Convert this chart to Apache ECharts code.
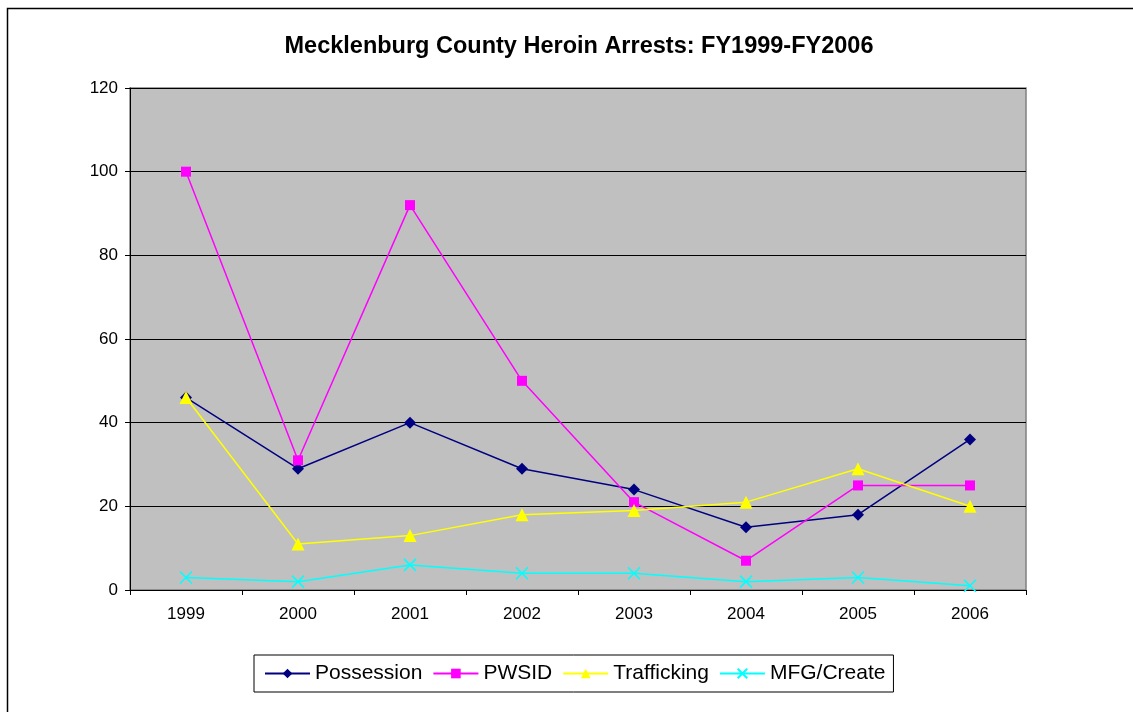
<!DOCTYPE html>
<html>
<head>
<meta charset="utf-8">
<script src="https://cdn.jsdelivr.net/npm/echarts@6/dist/echarts.min.js"></script>
<style>
  html, body { margin: 0; padding: 0; background: #fff; }
  #main { width: 1133px; height: 712px; }
</style>
</head>
<body>
<div id="main"></div>
<script>
var years = ['1999', '2000', '2001', '2002', '2003', '2004', '2005', '2006'];
var possession = [46, 29, 40, 29, 24, 15, 18, 36];
var pwsid = [100, 31, 92, 50, 21, 7, 25, 25];
var trafficking = [46, 11, 13, 18, 19, 21, 29, 20];
var mfgCreate = [3, 2, 6, 4, 4, 2, 3, 1];

var myChart = echarts.init(document.getElementById('main'));

function line(name, data, color, symbol, size) {
  return {
    name: name,
    type: 'line',
    data: data,
    symbol: symbol,
    symbolSize: size,
    showAllSymbol: true,
    lineStyle: { color: color, width: 1.5 },
    itemStyle: { color: color },
    emphasis: { disabled: true },
    z: 3
  };
}

var option = {
  animation: false,
  backgroundColor: '#fff',
  textStyle: { fontFamily: 'Liberation Sans, Arial, sans-serif' },
  title: {
    text: 'Mecklenburg County Heroin Arrests: FY1999-FY2006',
    left: 574,
    textAlign: 'center',
    top: 30,
    textStyle: { fontSize: 23.5, fontWeight: 'bold', color: '#000', fontFamily: 'Liberation Sans, Arial, sans-serif' }
  },
  graphic: [{
    type: 'rect',
    shape: { x: 7.5, y: 8.5, width: 1200, height: 800 },
    style: { fill: 'none', stroke: '#000', lineWidth: 1.5 },
    silent: true
  }],
  grid: {
    left: 130, right: 107, top: 88, bottom: 122,
    show: true,
    backgroundColor: '#C0C0C0',
    borderColor: '#808080',
    borderWidth: 1.5
  },
  legend: {
    bottom: 20,
    left: 254,
    itemWidth: 45,
    itemHeight: 12,
    itemGap: 10,
    padding: [8, 8, 8, 10],
    borderColor: '#000',
    borderWidth: 1,
    textStyle: { fontSize: 21, color: '#000' },
    data: ['Possession', 'PWSID', 'Trafficking', 'MFG/Create']
  },
  xAxis: {
    type: 'category',
    data: years,
    boundaryGap: true,
    axisLine: { lineStyle: { color: '#000', width: 1 } },
    axisTick: { show: true, inside: false, length: 5, lineStyle: { color: '#000' } },
    axisLabel: { fontSize: 17, color: '#000', margin: 16 },
    splitLine: { show: false }
  },
  yAxis: {
    type: 'value',
    min: 0,
    max: 120,
    interval: 20,
    axisLine: { show: true, lineStyle: { color: '#000', width: 1 } },
    axisTick: { show: true, length: 5, lineStyle: { color: '#000' } },
    axisLabel: { fontSize: 17, color: '#000', margin: 12 },
    splitLine: { show: true, lineStyle: { color: '#000', width: 1 } }
  },
  series: [
    line('Possession', possession, '#000080', 'diamond', 12),
    line('PWSID', pwsid, '#FF00FF', 'rect', 10),
    line('Trafficking', trafficking, '#FFFF00', 'triangle', 13),
    line('MFG/Create', mfgCreate, '#00FFFF', 'path://M0,0L10,10M10,0L0,10', 12)
  ]
};

// cross marker needs a stroke, not fill
option.series[3].itemStyle = { color: 'none', borderColor: '#00FFFF', borderWidth: 1.5 };

myChart.setOption(option);
</script>
</body>
</html>
